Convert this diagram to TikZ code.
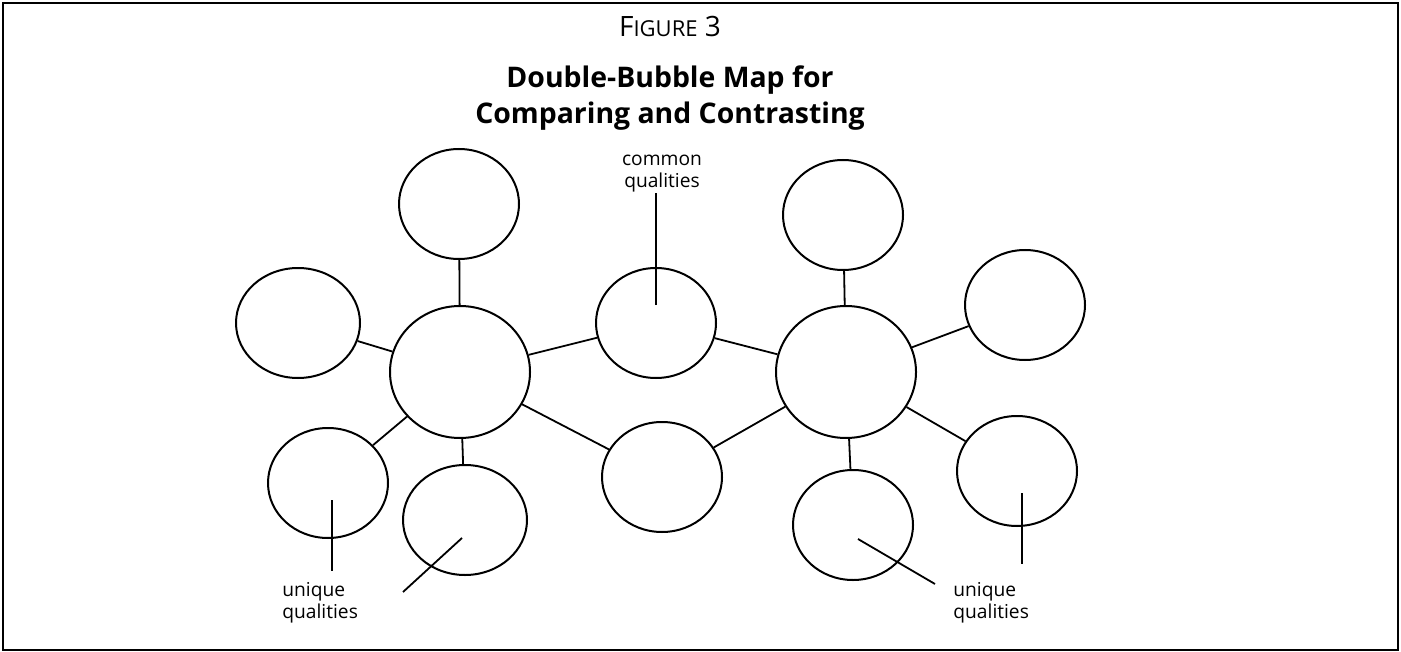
\documentclass[tikz,border=0pt]{standalone}
\usepackage{fontspec}
\setmainfont{Open Sans}
\usepackage{tikz}
\usetikzlibrary{shapes.geometric}

\begin{document}
\begin{tikzpicture}[
    x=0.5pt, y=-0.5pt,
    bub/.style={draw, ellipse, line width=1pt, minimum width=60pt,
      minimum height=55pt, inner sep=0pt},
    hub/.style={bub, minimum width=70pt, minimum height=66pt},
    lnk/.style={line width=0.9pt},
    lbl/.style={font=\fontsize{9.6}{11}\selectfont, align=left, inner sep=0pt},
  ]
  \useasboundingbox (0,0) rectangle (1401,652);
  \draw[line width=1.2pt] (3,3) rectangle (1398,650);
  % title
  \node[inner sep=0pt, anchor=base] (fig) at (670,37)
    {\fontsize{14}{16}\selectfont F{\fontsize{11}{12}\selectfont IGURE} 3};
  \node[inner sep=0pt, anchor=north, align=center,
    font=\bfseries\fontsize{14.2}{18}\selectfont] (title) at (670,65)
    {Double-Bubble Map for\\Comparing and Contrasting};
  % hubs and common bubbles
  \node[hub] (lhub) at (460,372) {};
  \node[hub] (rhub) at (846,372) {};
  \node[bub] (ctop) at (656,323) {};
  \node[bub] (cbot) at (662,477) {};
  % unique bubbles, left
  \node[bub] (ltop) at (459,204) {};
  \node[bub, minimum width=62pt] (lside) at (298,323) {};
  \node[bub] (lbot1) at (328,483) {};
  \node[bub, minimum width=62pt] (lbot2) at (465,520) {};
  % unique bubbles, right
  \node[bub] (rtop) at (843,215) {};
  \node[bub] (rside) at (1025,305) {};
  \node[bub] (rbot1) at (853,525) {};
  \node[bub] (rbot2) at (1017,471) {};
  \draw[lnk] (ltop)--(lhub); \draw[lnk] (lside)--(lhub); \draw[lnk] (lbot1)--(lhub);
  \draw[lnk] (lbot2)--(lhub); \draw[lnk] (lhub)--(ctop); \draw[lnk] (lhub)--(cbot);
  \draw[lnk] (ctop)--(rhub); \draw[lnk] (cbot)--(rhub); \draw[lnk] (rtop)--(rhub);
  \draw[lnk] (rside)--(rhub); \draw[lnk] (rbot1)--(rhub); \draw[lnk] (rbot2)--(rhub);
  % labels and pointers
  \node[lbl, anchor=north, align=center] (lcom) at (662,155) {common\\qualities};
  \node[lbl, anchor=north west] (luq) at (282,582) {unique\\qualities};
  \node[lbl, anchor=north west] (ruq) at (953,582) {unique\\qualities};
  \coordinate (pc) at (656,305);
  \coordinate (pl1) at (332,500); \coordinate (tl1) at (332,571);
  \coordinate (pl2) at (462,538); \coordinate (tl2) at (403,592);
  \coordinate (pr1) at (858,539); \coordinate (tr1) at (935,584);
  \coordinate (pr2) at (1022,493); \coordinate (tr2) at (1022,564);
  \draw[lnk] (pc)--(pc |- lcom.south); \draw[lnk] (pl1)--(tl1); \draw[lnk] (pl2)--(tl2);
  \draw[lnk] (pr1)--(tr1); \draw[lnk] (pr2)--(tr2);
\end{tikzpicture}
\end{document}
